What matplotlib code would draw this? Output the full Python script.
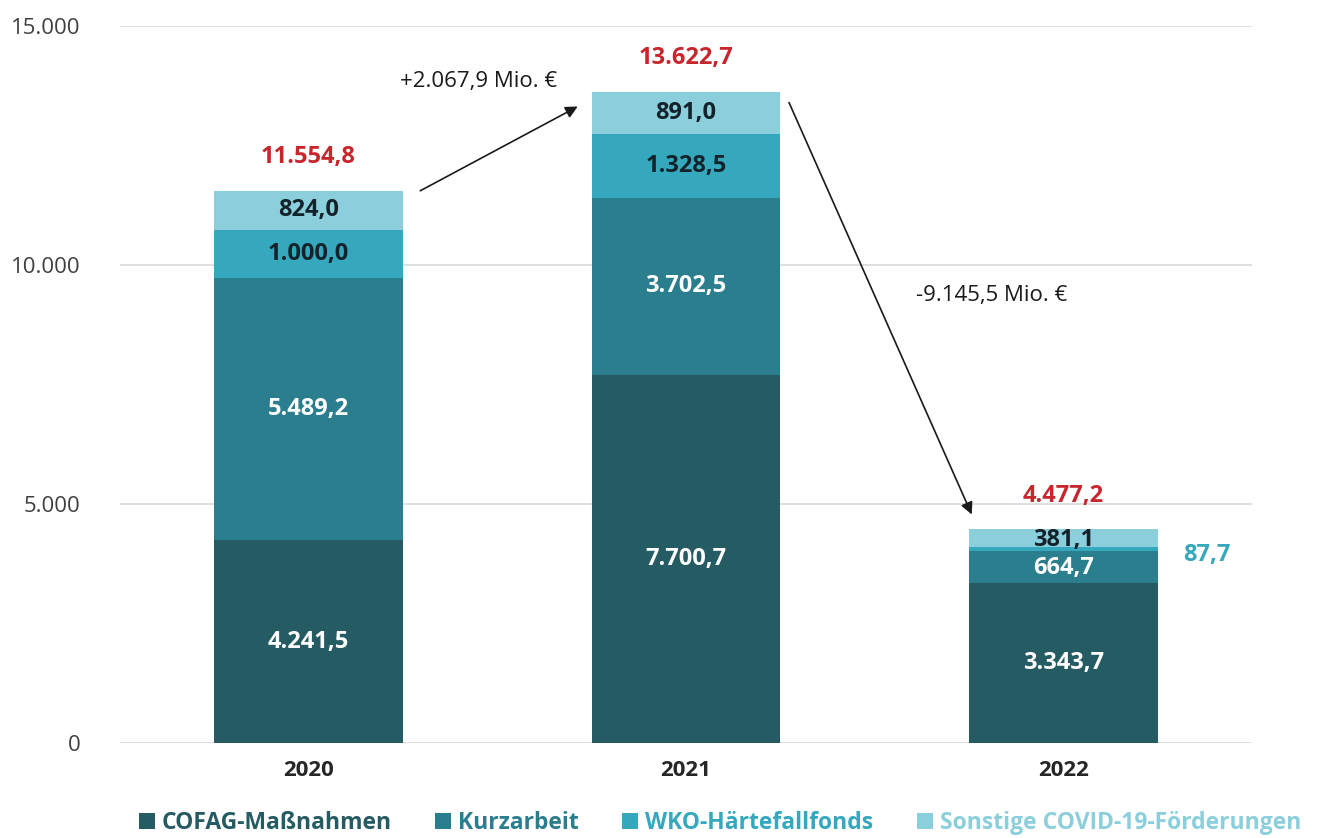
import numpy as np
import matplotlib.pyplot as plt

plt.rcParams['font.family'] = ['Open Sans', 'DejaVu Sans']

# Daten (Mio. €)
jahre = ['2020', '2021', '2022']
cofag = [4241.5, 7700.7, 3343.7]
kurzarbeit = [5489.2, 3702.5, 664.7]
wko = [1000.0, 1328.5, 87.7]
sonstige = [824.0, 891.0, 381.1]
summen = [11554.8, 13622.7, 4477.2]
diff_labels = ['+2.067,9 Mio. €', '-9.145,5 Mio. €']

serien = ['COFAG-Maßnahmen', 'Kurzarbeit', 'WKO-Härtefallfonds', 'Sonstige COVID-19-Förderungen']
farben = ['#255b63', '#2b7e8e', '#36a8be', '#8ccfdc']
label_farben = ['white', 'white', '#13232b', '#13232b']
rot = '#c8252c'


def fmt(v):
    s = f'{v:,.1f}'
    return s.replace(',', 'X').replace('.', ',').replace('X', '.')


fig = plt.figure(figsize=(13.28, 8.38), dpi=100)
ax = fig.add_axes([0.090, 0.1134, 0.853, 0.8556])

x = np.arange(len(jahre))
werte = [cofag, kurzarbeit, wko, sonstige]
unten = np.zeros(len(jahre))
for i, w in enumerate(werte):
    w = np.array(w)
    ax.bar(x, w, 0.5, bottom=unten, color=farben[i], label=serien[i], zorder=2)
    for j in range(len(jahre)):
        if i == 2 and j == 2:
            # kleiner Wert rechts neben dem Balken
            ax.text(x[j] + 0.38, unten[j] + w[j] / 2 - 120, fmt(w[j]), ha='center', va='center',
                    fontsize=17, fontweight='bold', color=farben[2])
            continue
        yy = unten[j] + w[j] / 2
        if i == 3 and j == 2:
            yy -= 40
        if i == 1 and j == 2:
            yy -= 15
        ax.text(x[j], yy, fmt(w[j]), ha='center', va='center',
                fontsize=17, fontweight='bold', color=label_farben[i], zorder=3)
    unten = unten + w

for j in range(len(jahre)):
    ax.text(x[j], summen[j] + 700, fmt(summen[j]), ha='center', va='center',
            fontsize=17, fontweight='bold', color=rot)

# Pfeile für Veränderungen
ax.annotate('', xy=(x[1] - 0.28, summen[1] - 280), xytext=(x[0] + 0.29, summen[0] - 30),
            arrowprops=dict(arrowstyle='-|>', color='#1a1a1a', lw=1.2, mutation_scale=18))
ax.annotate('', xy=(x[2] - 0.24, summen[2] + 250), xytext=(x[1] + 0.27, summen[1] - 170),
            arrowprops=dict(arrowstyle='-|>', color='#1a1a1a', lw=1.2, mutation_scale=18))
ax.text(0.45, 13830, diff_labels[0], ha='center', va='center', fontsize=16, color='#1a1a1a')
ax.text(1.81, 9370, diff_labels[1], ha='center', va='center', fontsize=16, color='#1a1a1a')

ax.set_xlim(-0.5, 2.5)
ax.set_ylim(0, 15000)
ax.set_yticks([0, 5000, 10000, 15000])
ax.set_yticklabels(['0', '5.000', '10.000', '15.000'], fontsize=16, color='#404040')
ax.set_xticks(x)
ax.set_xticklabels(jahre, fontsize=16, fontweight='bold', color='#262626')
ax.tick_params(length=0, pad=12)
ax.tick_params(axis='y', pad=28)
ax.yaxis.grid(True, color='#d9d9d9', lw=1.2, zorder=0)
ax.set_axisbelow(True)
for s in ax.spines.values():
    s.set_visible(False)

leg = ax.legend(loc='center', bbox_to_anchor=(0.53, -0.112), ncol=4, frameon=False,
                handlelength=0.7, handleheight=0.7, handletextpad=0.3,
                columnspacing=1.9, prop={'weight': 'bold', 'size': 16.5})
for t, c in zip(leg.get_texts(), farben):
    t.set_color(c)

fig.savefig('out.png', dpi=100, facecolor='white')
